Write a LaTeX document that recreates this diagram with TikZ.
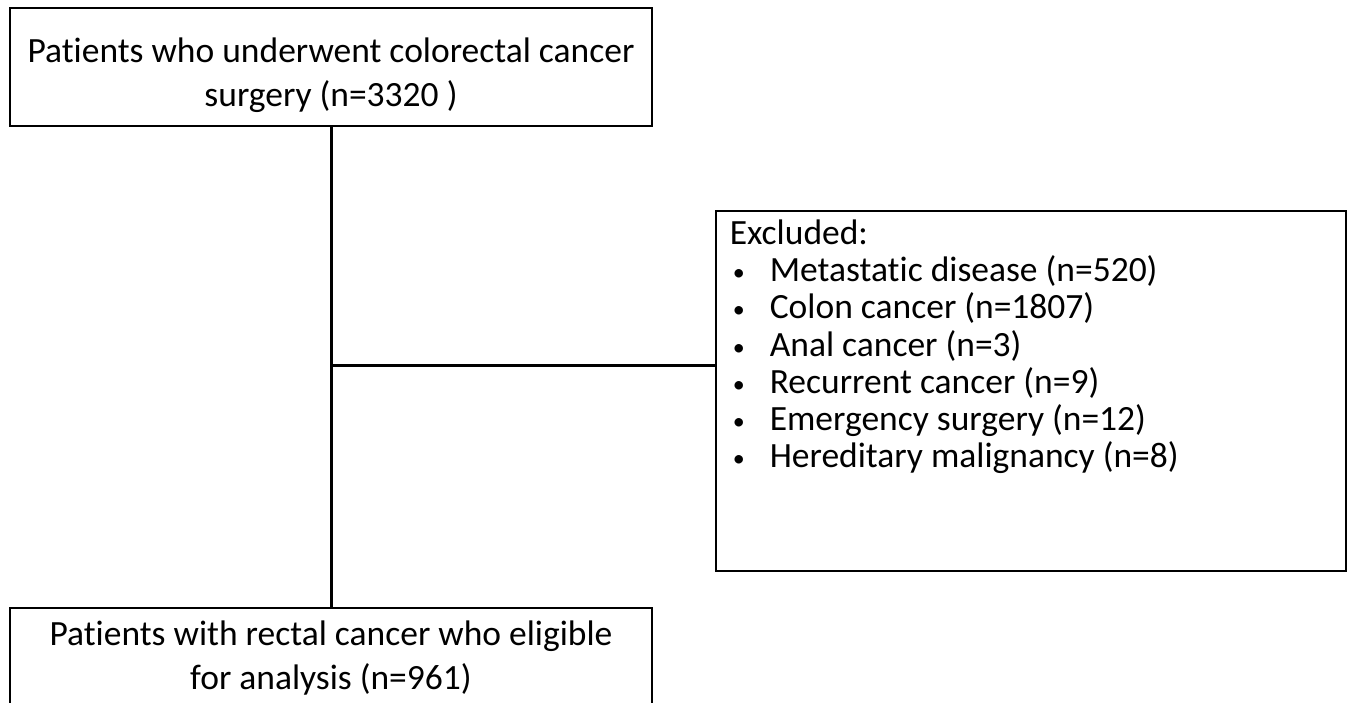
\documentclass[tikz,border=0pt]{standalone}
\usepackage{fontspec}
\setmainfont{Carlito}[Ligatures=NoCommon]
\newcommand{\blt}{\makebox[40pt][l]{\hspace{3pt}{\fontsize{24}{24}\selectfont\raisebox{1pt}{•}}}}
\begin{document}
\begin{tikzpicture}[x=1pt,y=-1pt,
  box/.style={draw=black, line width=1.6pt, rectangle},
  conn/.style={draw=black, line width=3pt},
  txt/.style={font=\fontsize{35.5}{44}\selectfont}]
\useasboundingbox (0,0) rectangle (1357,702);
\clip (0,0) rectangle (1357,702);
\node[box, txt, align=center, minimum width=642pt, minimum height=118pt] (top) at (331,67)
  {\rule{0pt}{42pt}Patients who underwent colorectal cancer\\surgery (n=3320 )};
\node[box, txt, align=center, anchor=north, minimum width=642pt, inner ysep=13pt] (bottom) at (331,607)
  {Patients with rectal cancer who eligible\\for analysis (n=961)\\[10pt]};
\node[box, anchor=north west, inner xsep=14pt, inner ysep=9pt, font=\fontsize{35.5}{37.2}\selectfont] (excl) at (715,210)
  {\parbox[t][342pt][t]{602pt}{\raggedright
   Excluded:\\
   \blt Metastatic disease (n=520)\\
   \blt Colon cancer (n=1807)\\
   \blt Anal cancer (n=3)\\
   \blt Recurrent cancer (n=9)\\
   \blt Emergency surgery (n=12)\\
   \blt Hereditary malignancy (n=8)}};
\coordinate (j) at (331,365);
\draw[conn] (top.south) -- (bottom.north);
\draw[conn] (j) -- (j -| excl.west);
\end{tikzpicture}
\end{document}
